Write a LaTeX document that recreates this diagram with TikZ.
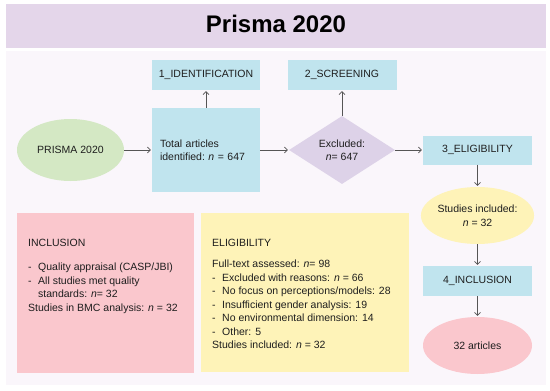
\documentclass[tikz,border=0pt]{standalone}
\usepackage{fontspec}
\setmainfont{Liberation Sans}
\usetikzlibrary{shapes.geometric,arrows.meta}
\definecolor{titlebg}{RGB}{228,214,234}
\definecolor{panelbg}{RGB}{250,246,251}
\definecolor{lblue}{RGB}{192,228,238}
\definecolor{lgreen}{RGB}{212,232,196}
\definecolor{lpurple}{RGB}{221,210,232}
\definecolor{lyellow}{RGB}{254,243,184}
\definecolor{lpink}{RGB}{250,199,205}
\definecolor{txtc}{RGB}{30,30,30}
\definecolor{arrc}{RGB}{85,85,85}
\newcommand\dashitem{\makebox[10pt][l]{-}}
\begin{document}
\begin{tikzpicture}[x=1pt,y=-1pt,
  font=\fontsize{10.5}{13.5}\selectfont, text=txtc,
  arr/.style={draw=arrc, line width=0.6pt, -{Straight Barb[length=3pt,width=6pt]}, shorten >=1pt},
  bluebox/.style={rectangle, fill=lblue, minimum width=109pt, minimum height=30pt, inner sep=0pt},
  ellnode/.style={ellipse, minimum width=109pt, minimum height=57pt, inner sep=0pt, align=center},
  bigbox/.style={rectangle, anchor=north west, inner sep=0pt},
  boxtext/.style={anchor=base west, align=left, inner sep=0pt}]
\useasboundingbox (0,0) rectangle (550,391);
\fill[white] (0,0) rectangle (550,391);
\fill[panelbg] (6,51) rectangle (546,385);
\node[rectangle, fill=titlebg, minimum width=540pt, minimum height=44pt, inner sep=0pt, anchor=north west] (titlebar) at (6,4) {};
\node[font=\fontsize{24}{28}\selectfont\bfseries, text=black, inner sep=0pt] (title) at (276,24) {Prisma 2020};

\node[ellnode, fill=lgreen, minimum width=107pt, minimum height=62pt] (prisma) at (70.5,150) {PRISMA 2020};
\node[rectangle, fill=lblue, minimum width=108pt, minimum height=84pt, text width=92pt, inner xsep=8pt, inner ysep=0pt, align=left] (total) at (206,150) {Total articles\\identified:\ \textit{n} = 647};
\node[bluebox, minimum width=108pt] (ident) at (206,75) {1\_IDENTIFICATION};
\node[bluebox] (screen) at (342,75) {2\_SCREENING};
\node[diamond, fill=lpurple, minimum width=106pt, minimum height=68pt, inner sep=0pt, align=center] (excl) at (342,150) {Excluded:\\\textit{n}= 647};
\node[bluebox, minimum height=29pt] (elig) at (477.5,150) {3\_ELIGIBILITY};
\node[ellnode, fill=lyellow] (studies) at (477.5,215.5) {Studies included:\\\textit{n} = 32};
\node[bluebox] (incl) at (477.5,281) {4\_INCLUSION};
\node[ellnode, fill=lpink] (arts) at (477.5,345.5) {32 articles};

\node[bigbox, fill=lpink, minimum width=177pt, minimum height=160pt] (inclbox) at (17,213) {};
\node[bigbox, fill=lyellow, minimum width=208pt, minimum height=159pt] (eligbox) at (201,213) {};

\node[boxtext] (incltext) at (28,311.2) {INCLUSION\\[10.5pt]
\dashitem Quality appraisal (CASP/JBI)\\
\dashitem All studies met quality\\
\hspace*{10pt}standards: \textit{n}= 32\\
Studies in BMC analysis: \textit{n} = 32};

\node[boxtext] (eligtext) at (212,348.7) {ELIGIBILITY\\[7.5pt]
Full-text assessed: \textit{n}= 98\\
\dashitem Excluded with reasons: \textit{n} = 66\\
\dashitem No focus on perceptions/models: 28\\
\dashitem Insufficient gender analysis: 19\\
\dashitem No environmental dimension: 14\\
\dashitem Other: 5\\
Studies included: \textit{n} = 32};

\draw[arr] (prisma) -- (total);
\draw[arr] (total) -- (ident);
\draw[arr] (total) -- (excl);
\draw[arr] (excl) -- (screen);
\draw[arr] (excl) -- (elig);
\draw[arr] (elig) -- (studies);
\draw[arr] (studies) -- (incl);
\draw[arr] (incl) -- (arts);
\end{tikzpicture}
\end{document}
